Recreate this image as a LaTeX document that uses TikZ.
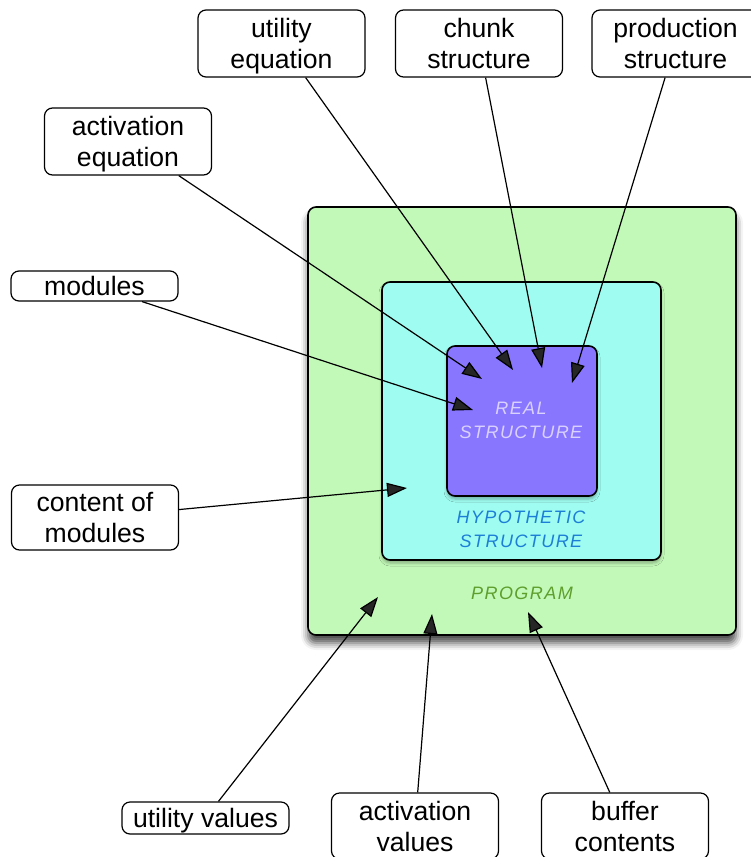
\documentclass[tikz,border=0pt]{standalone}
\usepackage{fontspec}
\setmainfont{Liberation Sans}
\usetikzlibrary{arrows.meta, shadows.blur}

\definecolor{progGreen}{RGB}{194,249,184}
\definecolor{hypoCyan}{RGB}{159,252,240}
\definecolor{realViolet}{RGB}{137,118,255}
\definecolor{realText}{RGB}{217,210,255}
\definecolor{hypoText}{RGB}{28,126,214}
\definecolor{progText}{RGB}{94,158,44}

\begin{document}
\begin{tikzpicture}[x=0.5pt, y=-0.5pt,
    label box/.style={draw, rounded corners=4pt, fill=white, align=center, inner sep=0pt,
        line width=0.6pt, font=\fontsize{13.3}{15.5}\selectfont, minimum width=83.5pt, text depth=0pt},
    layer/.style={draw, rounded corners=4pt, line width=0.8pt},
    layer text/.style={align=center, font=\fontsize{9}{12}\selectfont\itshape\addfontfeature{LetterSpace=8}},
    link/.style={-{Triangle[length=10pt, width=7pt]}, line width=0.6pt}]
    \useasboundingbox (0,0) rectangle (750,857);

    % Draw the nested layers
    \draw[layer, fill=progGreen, blur shadow={shadow xshift=0pt, shadow yshift=-4pt,
        shadow blur radius=3.5pt, shadow opacity=70}] (308,207) rectangle (736,635);
    \draw[layer, fill=hypoCyan, blur shadow={shadow xshift=0pt, shadow yshift=-1.5pt,
        shadow blur radius=1.5pt, shadow opacity=30}] (382,282) rectangle (661,560);
    \draw[layer, fill=realViolet, blur shadow={shadow xshift=0pt, shadow yshift=-1.5pt,
        shadow blur radius=1.5pt, shadow opacity=30}] (447,346) rectangle (597,496);

    % Layer names
    \node[layer text, text=realText] (realLbl) at (521,420) {REAL\\STRUCTURE};
    \node[layer text, text=hypoText] (hypoLbl) at (521,529) {HYPOTHETIC\\STRUCTURE};
    \node[layer text, text=progText] (progLbl) at (522,593) {PROGRAM};

    % Boxes round the layers
    \node[label box, minimum height=33.5pt] (utilEq) at (281.5,43.5) {utility\\equation};
    \node[label box, minimum height=33.5pt] (chunkStr) at (479,43.5) {chunk\\structure};
    \node[label box, minimum height=33.5pt] (prodStr) at (675.5,43.5) {production\\structure};
    \node[label box, minimum height=33.5pt] (actEq) at (128,141.5) {activation\\equation};
    \node[label box, minimum height=15pt] (modules) at (94.5,286) {modules};
    \node[label box, minimum height=32.5pt] (content) at (95,517.5) {content of\\modules};
    \node[label box, minimum height=16pt] (utilVal) at (205.5,818) {utility values};
    \node[label box, minimum height=33pt] (actVal) at (415,826) {activation\\values};
    \node[label box, minimum height=33pt] (bufCont) at (625,826) {buffer\\contents};

    % Arrow tips inside the layers
    \coordinate (tipUtilEq) at (513,370);
    \coordinate (tipChunk) at (542,368);
    \coordinate (tipProd) at (572,383);
    \coordinate (tipActEq) at (482,379);
    \coordinate (tipModules) at (473,410);
    \coordinate (tipContent) at (407,488);
    \coordinate (tipUtilVal) at (378,597);
    \coordinate (tipActVal) at (432,614);
    \coordinate (tipBuf) at (528,612);

    % Connectors
    \draw[link] (utilEq) -- (tipUtilEq);
    \draw[link] (chunkStr) -- (tipChunk);
    \draw[link] (prodStr) -- (tipProd);
    \draw[link] (actEq) -- (tipActEq);
    \draw[link] (modules) -- (tipModules);
    \draw[link] (content) -- (tipContent);
    \draw[link] (utilVal) -- (tipUtilVal);
    \draw[link] (actVal) -- (tipActVal);
    \draw[link] (bufCont) -- (tipBuf);
\end{tikzpicture}
\end{document}
